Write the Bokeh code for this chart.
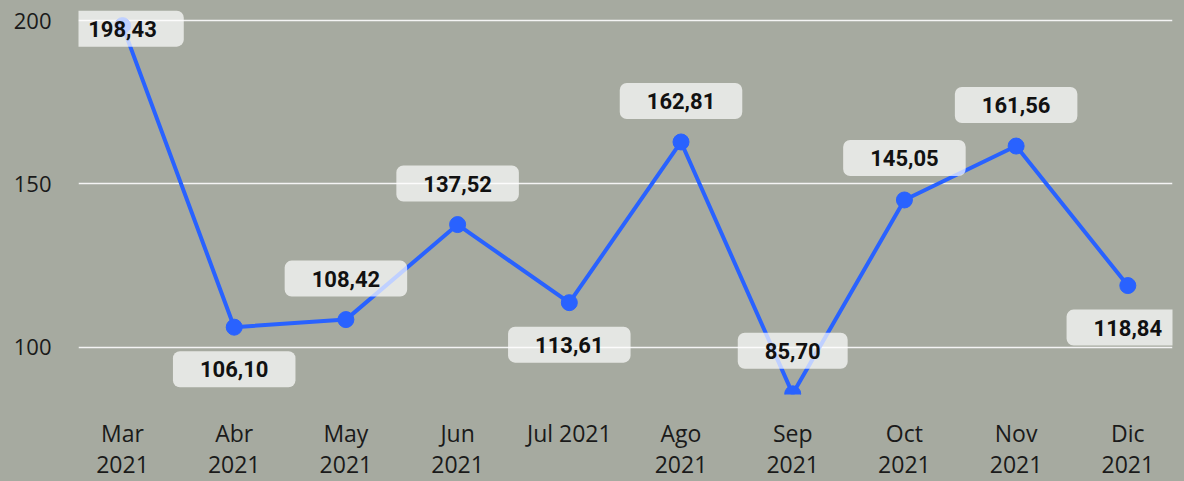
from bokeh.plotting import figure
from bokeh.models import Range1d, FixedTicker, ColumnDataSource
from bokeh.core.properties import value
from bokeh.embed import file_html
from bokeh.resources import INLINE

# ---- data ----
months = ["Mar\n2021", "Abr\n2021", "May\n2021", "Jun\n2021", "Jul 2021",
          "Ago\n2021", "Sep\n2021", "Oct\n2021", "Nov\n2021", "Dic\n2021"]
values = [198.43, 106.10, 108.42, 137.52, 113.61, 162.81, 85.70, 145.05, 161.56, 118.84]
labels = ["198,43", "106,10", "108,42", "137,52", "113,61",
          "162,81", "85,70", "145,05", "161,56", "118,84"]
y_ticks = [100, 150, 200]

# label placement (screen px, + is down)
label_offsets = [3, 42, -41, -41, 42, -41, -43, -42, -41, 42]

BG = "#a6aaa0"
BLUE = "#2962ff"

xs = list(range(len(months)))
src = ColumnDataSource(dict(x=xs, y=values, lbl=labels, yoff=label_offsets))

p = figure(frame_width=1094, frame_height=390,
           x_range=Range1d(-0.394, 9.40), y_range=Range1d(85.49, 204.9),
           output_backend="svg", toolbar_location=None,
           min_border_left=78, min_border_right=12, min_border_top=4, min_border_bottom=87,
           styles={"background-color": BG})

p.background_fill_color = BG
p.border_fill_color = BG
p.outline_line_color = None

p.xgrid.grid_line_color = None
p.ygrid.ticker = FixedTicker(ticks=y_ticks)
p.ygrid.grid_line_color = "#f4f4f4"
p.ygrid.grid_line_width = 1.5

p.yaxis.ticker = FixedTicker(ticks=y_ticks)
p.yaxis.axis_line_color = None
p.yaxis.major_tick_line_color = None
p.yaxis.minor_tick_line_color = None
p.yaxis.major_label_standoff = 21
p.yaxis.major_label_text_font = "Open Sans"
p.yaxis.major_label_text_font_size = "22px"
p.yaxis.major_label_text_color = "#1a1a1a"

p.xaxis.ticker = FixedTicker(ticks=xs)
p.xaxis.major_label_overrides = {i: m for i, m in zip(xs, months)}
p.xaxis.axis_line_color = None
p.xaxis.major_tick_line_color = None
p.xaxis.minor_tick_line_color = None
p.xaxis.major_label_standoff = 16
p.xaxis.major_label_text_font = "Open Sans"
p.xaxis.major_label_text_font_size = "23px"
p.xaxis.major_label_text_line_height = 0.97
p.xaxis.major_label_text_color = "#1a1a1a"

p.line("x", "y", source=src, line_width=4, line_color=BLUE)
p.scatter("x", "y", source=src, size=16, fill_color=BLUE, line_color=BLUE)

p.text("x", "y", text="lbl", source=src, y_offset="yoff",
       text_align="center", text_baseline="middle",
       text_font=value("Roboto"), text_font_size="22px", text_font_style="bold",
       text_color="#111111",
       background_fill_color="white", background_fill_alpha=0.7,
       border_radius=7, padding=dict(x=27, y=10))

open("out.html", "w").write(file_html(p, INLINE))
